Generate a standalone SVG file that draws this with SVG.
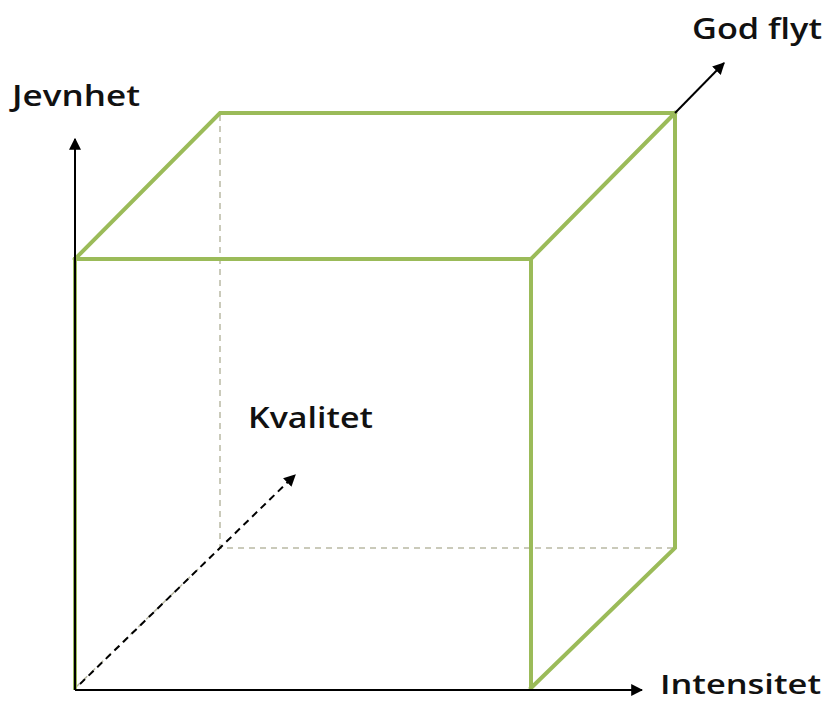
<svg xmlns="http://www.w3.org/2000/svg" width="824" height="702" viewBox="0 0 824 702">
<defs>
<style>
.edge{stroke:#9BBB59;stroke-width:4;fill:none;stroke-linecap:square;stroke-linejoin:miter}
.hidden{stroke:#b9b9a4;stroke-width:1.5;fill:none;stroke-dasharray:6 5}
.axis{stroke:#000;stroke-width:2;fill:none}
.daxis{stroke:#000;stroke-width:2;fill:none;stroke-dasharray:7 5}
.lbl{font-family:"Open Sans","Liberation Sans",sans-serif;font-weight:600;font-size:29px;fill:#111}
</style>
<marker id="ah" viewBox="0 0 10 10" refX="9" refY="5" markerWidth="6" markerHeight="6" markerUnits="strokeWidth" orient="auto">
<path d="M0,0 L10,5 L0,10 z" fill="#000"/>
</marker>
</defs>
<rect width="824" height="702" fill="#fff"/>
<g id="cube">
<path class="hidden" d="M220,115 V548 H675 M75,688 L220,548"/>
<path class="edge" d="M75,259 L220,113 H675 V548 L531,688 M75,259 H531 V688 M531,259 L675,113 M75,259 V688"/>
</g>
<g id="connectors">
<path class="axis" d="M75,690 V139" marker-end="url(#ah)"/>
<path class="axis" d="M75,690 H642" marker-end="url(#ah)"/>
<path class="axis" d="M675,113 L724,63" marker-end="url(#ah)"/>
<path class="daxis" d="M80,684 L295,475" marker-end="url(#ah)"/>
</g>
<g id="label-jevnhet"><text class="lbl" x="12" y="106" textLength="128" lengthAdjust="spacingAndGlyphs">Jevnhet</text></g>
<g id="label-godflyt"><text class="lbl" x="692" y="39" textLength="130" lengthAdjust="spacingAndGlyphs">God flyt</text></g>
<g id="label-kvalitet"><text class="lbl" x="248" y="428" textLength="125" lengthAdjust="spacingAndGlyphs">Kvalitet</text></g>
<g id="label-intensitet"><text class="lbl" x="660" y="694" font-size="27" textLength="161" lengthAdjust="spacingAndGlyphs" style="font-size:27px">Intensitet</text></g>
</svg>
